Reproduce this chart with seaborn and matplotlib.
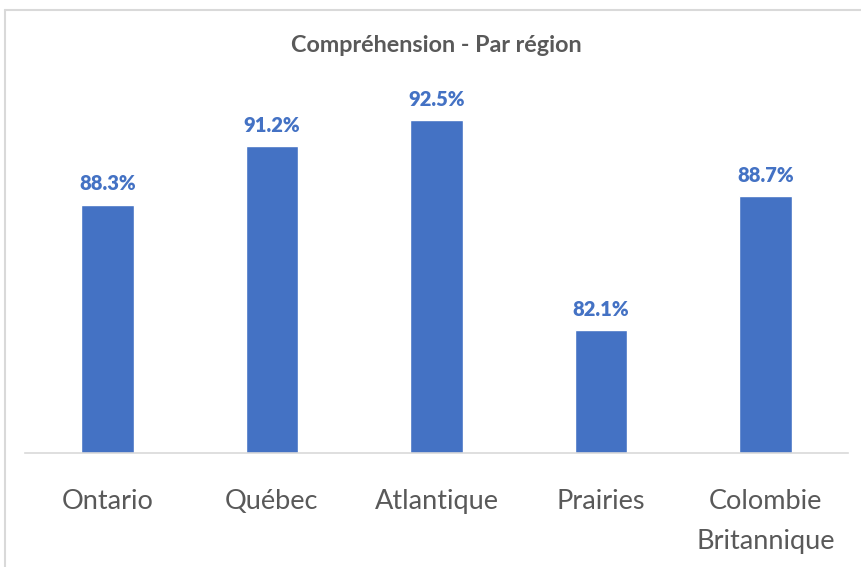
import matplotlib
matplotlib.use("Agg")
import matplotlib.pyplot as plt
import seaborn as sns
import pandas as pd
from matplotlib.lines import Line2D

regions = ["Ontario", "Québec", "Atlantique", "Prairies", "Colombie\nBritannique"]
comprehension = [88.3, 91.2, 92.5, 82.1, 88.7]

df = pd.DataFrame({"Region": regions, "Pct": comprehension})

sns.set_style("white")
plt.rcParams["font.family"] = ["Lato", "DejaVu Sans"]

fig = plt.figure(figsize=(8.62, 5.67), dpi=100)
ax = fig.add_axes([25 / 862, 1 - 453 / 567, 823 / 862, 404 / 567])

sns.barplot(data=df, x="Region", y="Pct", color="#4472C4", width=0.32,
            saturation=1, ax=ax)
ax.set_xlim(-0.5, 4.5)
ax.set_ylim(76, 96)

ax.bar_label(ax.containers[0], labels=[f"{v:.1f}%" for v in comprehension],
             padding=8, color="#4472C4", fontsize=14.5, fontweight="heavy")

for s in ["left", "right", "top"]:
    ax.spines[s].set_visible(False)
ax.spines["bottom"].set_color("#D9D9D9")
ax.spines["bottom"].set_linewidth(1.2)
ax.set_yticks([])
ax.set_xlabel("")
ax.set_ylabel("")
ax.tick_params(axis="x", length=0, pad=26, labelsize=19.5, labelcolor="#595959")
for lbl in ax.get_xticklabels():
    lbl.set_verticalalignment("top")
    lbl.set_linespacing(1.75)

fig.text(436 / 862, 1 - 45 / 567, "Compréhension - Par région", ha="center",
         va="center", fontsize=16.8, fontweight="bold", color="#595959")

# chart border (only top and left visible in the crop)
fig.add_artist(Line2D([5 / 862, 5 / 862], [0, 1 - 10 / 567], color="#D9D9D9",
                      lw=1.5, transform=fig.transFigure))
fig.add_artist(Line2D([5 / 862, 1], [1 - 10 / 567, 1 - 10 / 567], color="#D9D9D9",
                      lw=1.5, transform=fig.transFigure))

fig.savefig("out.png", dpi=100)
